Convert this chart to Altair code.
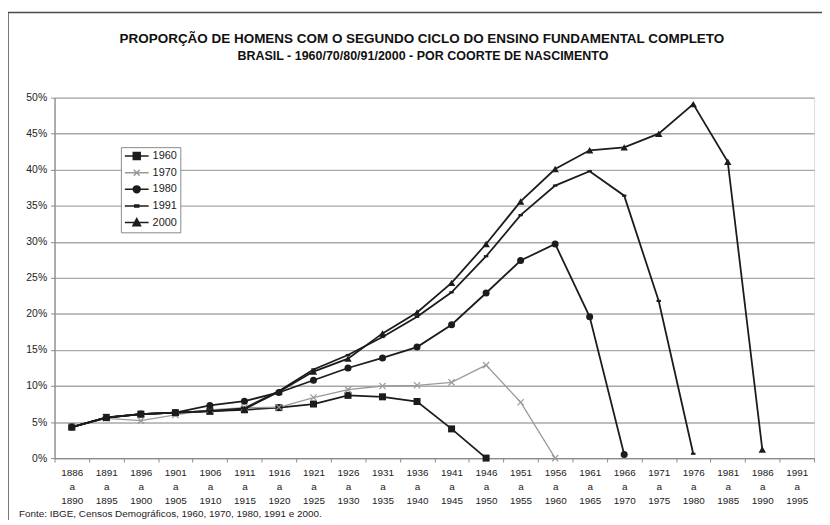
import altair as alt
import pandas as pd

# ---- data ----
cohort_start = [1886, 1891, 1896, 1901, 1906, 1911, 1916, 1921, 1926, 1931, 1936,
                1941, 1946, 1951, 1956, 1961, 1966, 1971, 1976, 1981, 1986, 1991]
cohorts = [f"{s} a {s + 4}" for s in cohort_start]

series = ["1960", "1970", "1980", "1991", "2000"]

v1960 = [4.3, 5.65, 6.1, 6.3, 6.5, 6.7, 7.0, 7.5, 8.7, 8.5, 7.85, 4.05, 0.0,
         None, None, None, None, None, None, None, None, None]
v1970 = [4.3, 5.5, 5.2, 6.0, 6.7, 7.0, 7.05, 8.4, 9.5, 10.0, 10.1, 10.5, 12.9,
         7.75, 0.0, None, None, None, None, None, None, None]
v1980 = [4.3, 5.6, 6.1, 6.3, 7.3, 7.9, 9.1, 10.8, 12.5, 13.9, 15.4, 18.5, 22.9,
         27.4, 29.7, 19.6, 0.5, None, None, None, None, None]
v1991 = [4.3, 5.6, 6.1, 6.3, 6.5, 6.9, 9.3, 12.3, 14.3, 16.8, 19.6, 23.0, 28.0,
         33.7, 37.8, 39.8, 36.4, 21.8, 0.6, None, None, None]
v2000 = [4.3, 5.6, 6.1, 6.3, 6.5, 6.8, 9.2, 12.0, 13.8, 17.3, 20.2, 24.3, 29.7,
         35.6, 40.1, 42.7, 43.1, 45.0, 49.1, 41.1, 1.2, None]

y_ticks = [0, 5, 10, 15, 20, 25, 30, 35, 40, 45, 50]

title_lines = ["PROPORÇÃO DE HOMENS COM O SEGUNDO CICLO DO ENSINO FUNDAMENTAL COMPLETO",
               "BRASIL - 1960/70/80/91/2000 - POR COORTE DE NASCIMENTO"]
source_text = "Fonte: IBGE, Censos Demográficos, 1960, 1970, 1980, 1991 e 2000."

rows = []
for s, vals in zip(series, [v1960, v1970, v1980, v1991, v2000]):
    for c, v in zip(cohorts, vals):
        if v is not None:
            rows.append({"serie": s, "coorte": c, "valor": v})
df = pd.DataFrame(rows)

FONT = "Liberation Sans"
DARK = "#1c1c1c"
GRAY = "#9a9a9a"
series_colors = [DARK, GRAY, DARK, DARK, DARK]

color_scale = alt.Scale(domain=series, range=series_colors)

legend_paths = [
    "M-1,0L1,0M-0.29,-0.29L0.29,-0.29L0.29,0.29L-0.29,0.29Z",
    "M-1,0L1,0M-0.25,-0.25L0.25,0.25M-0.25,0.25L0.25,-0.25",
    "M-1,0L1,0M-0.29,0A0.29,0.29,0,1,0,0.29,0A0.29,0.29,0,1,0,-0.29,0Z",
    "M-1,0L1,0M-0.17,-0.08L0.17,-0.08L0.17,0.08L-0.17,0.08Z",
    "M-1,0L1,0M0,-0.33L0.32,0.27L-0.32,0.27Z",
]

x_enc = alt.X(
    "coorte:N",
    sort=cohorts,
    scale=alt.Scale(type="band", domain=cohorts, paddingInner=0, paddingOuter=0),
    axis=alt.Axis(
        title=None,
        labelExpr="split(datum.label, ' ')",
        labelAngle=0,
        labelLineHeight=13.7,
        labelFont=FONT,
        labelFontSize=10,
        labelColor="#222222",
        labelPadding=6,
        tickBand="extent",
        tickSize=4,
        tickColor="#8a8a8a",
        domainColor="#8a8a8a",
        domainWidth=1.3,
        grid=False,
    ),
)
y_enc = alt.Y(
    "valor:Q",
    scale=alt.Scale(domain=[0, 50], nice=False),
    axis=alt.Axis(
        title=None,
        values=y_ticks,
        labelExpr="datum.value + '%'",
        labelFont=FONT,
        labelFontSize=10.5,
        labelColor="#222222",
        labelPadding=4,
        tickSize=4,
        tickColor="#8a8a8a",
        domainColor="#8a8a8a",
        domainWidth=1.3,
        grid=True,
        gridColor="#a8a8a8",
        gridWidth=1.4,
    ),
)

base = alt.Chart(df)

frame = alt.Chart(pd.DataFrame({"k": [0]})).mark_rect(
    fill="transparent", stroke="#4a4a4a", strokeWidth=1.5
).encode(
    x=alt.value(-47), x2=alt.value(820), y=alt.value(-86), y2=alt.value(470)
)

marker_specs = {
    "1960": dict(shape="square", size=50, filled=True, color=DARK),
    "1970": dict(shape="M-1,-1L1,1M-1,1L1,-1", size=40, filled=False, color=GRAY, strokeWidth=1.2),
    "1980": dict(shape="circle", size=50, filled=True, color=DARK),
    "1991": dict(shape="M-1,-0.5L1,-0.5L1,0.5L-1,0.5Z", size=20, filled=True, color=DARK),
    "2000": dict(shape="triangle-up", size=56, filled=True, color=DARK),
}
line_layers = []
point_layers = []
for s, col in zip(series, series_colors):
    sub = base.transform_filter(alt.datum.serie == s)
    line_layers.append(
        sub.mark_line(color=col, strokeWidth=1.3 if s == "1970" else 1.8).encode(x=x_enc, y=y_enc)
    )
    point_layers.append(sub.mark_point(opacity=1, **marker_specs[s]).encode(x=x_enc, y=y_enc))

leg = alt.Legend(
    title=None,
    orient="none",
    legendX=67,
    legendY=50,
    fillColor="white",
    strokeColor="#8a8a8a",
    padding=3,
    symbolSize=576,
    symbolStrokeWidth=1.5,
    symbolOpacity=1,
    clipHeight=12,
    rowPadding=4.8,
    labelFont=FONT,
    labelFontSize=11,
    labelColor="#222222",
    labelOffset=3,
)
# legend-only layer: no rows survive the filter, the legend comes from the explicit domain
legend_layer = base.transform_filter("false").mark_point(filled=True, strokeWidth=1.5).encode(
    x=x_enc,
    y=y_enc,
    shape=alt.Shape("serie:N", scale=alt.Scale(domain=series, range=legend_paths), legend=leg),
    fill=alt.Fill("serie:N", scale=color_scale, legend=leg),
    stroke=alt.Stroke("serie:N", scale=color_scale, legend=leg),
)

title1 = alt.Chart(pd.DataFrame({"t": [title_lines[0]]})).mark_text(
    align="center", baseline="alphabetic", font=FONT, fontSize=13.6, fontWeight="bold", color="#111111"
).encode(x=alt.value(371), y=alt.value(-55), text="t:N")
title2 = alt.Chart(pd.DataFrame({"t": [title_lines[1]]})).mark_text(
    align="center", baseline="alphabetic", font=FONT, fontSize=12.6, fontWeight="bold", color="#111111"
).encode(x=alt.value(372), y=alt.value(-38), text="t:N")

source = alt.Chart(pd.DataFrame({"t": [source_text]})).mark_text(
    align="left", baseline="alphabetic", font=FONT, fontSize=10, color="#222222"
).encode(x=alt.value(-36), y=alt.value(423), text="t:N")

chart = alt.layer(frame, *line_layers, *point_layers, legend_layer, title1, title2, source).properties(
    width=767,
    height=364,
    padding={"left": 47, "top": 88, "right": 8, "bottom": 60},
    autosize=alt.AutoSizeParams(type="none"),
).configure_view(stroke="#9a9a9a", strokeWidth=1.3).configure(background="white")

chart.save("out.html", embed_options={"renderer": "svg", "actions": False})
